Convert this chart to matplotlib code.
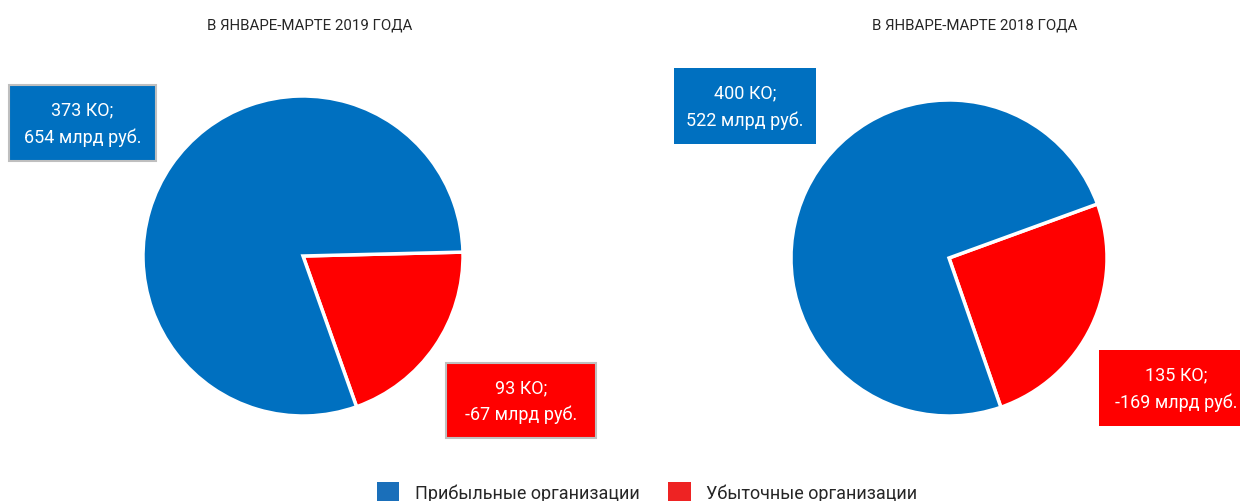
import matplotlib.pyplot as plt
from matplotlib.patches import Rectangle, Patch

plt.rcParams['font.family'] = ['Roboto', 'DejaVu Sans']

# данные
titles = ['В ЯНВАРЕ-МАРТЕ 2019 ГОДА', 'В ЯНВАРЕ-МАРТЕ 2018 ГОДА']
profit_ko = [373, 400]
profit_rub = [654, 522]
loss_ko = [93, 135]
loss_rub = [-67, -169]
legend_labels = ['Прибыльные организации', 'Убыточные организации']

BLUE = '#0070c0'
RED = '#ff0000'
LEG_BLUE = '#1a6fba'
LEG_RED = '#ee2323'

W, H = 1240, 502
fig = plt.figure(figsize=(W / 100, H / 100), dpi=100)
ax = fig.add_axes([0, 0, 1, 1])


def py(y):
    # пиксельная координата сверху -> координата осей снизу
    return H - y


# раскладка двух диаграмм
layout = [
    dict(cx=303, cy=257, r=160, start=1.4, title_x=310,
         pbox=(9, 86, 156, 162), lbox=(446, 364, 596, 439), border=True),
    dict(cx=949, cy=259, r=158, start=20, title_x=975,
         pbox=(674, 69, 816, 145), lbox=(1099, 351, 1254, 427), border=False),
]

for i, L in enumerate(layout):
    ax.pie([loss_ko[i], profit_ko[i]], colors=[RED, BLUE],
           startangle=L['start'], counterclock=False,
           center=(L['cx'], py(L['cy'])), radius=L['r'],
           explode=[0.02, 0], wedgeprops=dict(edgecolor='white', linewidth=2.5))
    ax.text(L['title_x'], py(25), titles[i], ha='center', va='center',
            fontsize=10.8, color='#262626')

    for box, col, txt in [
        (L['pbox'], BLUE, f'{profit_ko[i]} КО;\n{profit_rub[i]} млрд руб.'),
        (L['lbox'], RED, f'{loss_ko[i]} КО;\n{loss_rub[i]} млрд руб.'),
    ]:
        x0, y0, x1, y1 = box
        ax.add_patch(Rectangle((x0, py(y1)), x1 - x0, y1 - y0, facecolor=col,
                               edgecolor='#bfbfbf' if L['border'] else col,
                               linewidth=1.5 if L['border'] else 0, zorder=3))
        tx = (x0 + x1) / 2 if x1 <= W else 1176
        ax.text(tx, py((y0 + y1) / 2), txt, ha='center', va='center',
                color='white', fontsize=13, linespacing=1.6, zorder=4)

ax.set_xlim(0, W)
ax.set_ylim(0, H)
ax.set_aspect('auto')
ax.axis('off')

handles = [Patch(facecolor=LEG_BLUE), Patch(facecolor=LEG_RED)]
ax.legend(handles, legend_labels, ncol=2, loc='center',
          bbox_to_anchor=(647 / W, py(493) / H), frameon=False,
          fontsize=13, handlelength=1.25, handleheight=1.25,
          handletextpad=0.85, columnspacing=1.6, labelcolor='#262626')

fig.savefig('out.png', dpi=100)
